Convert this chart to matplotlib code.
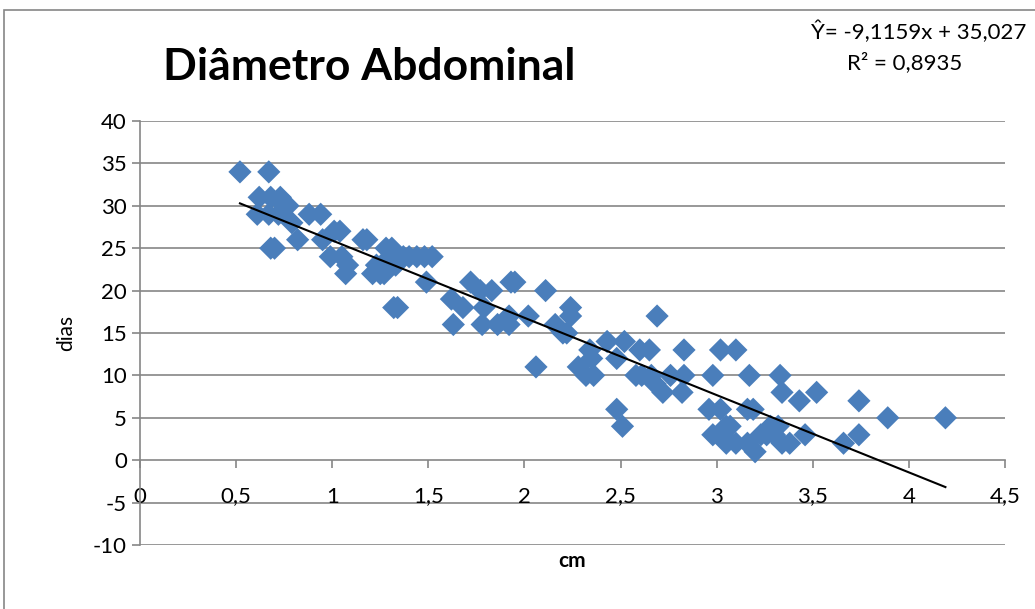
import numpy as np
import matplotlib.pyplot as plt
from matplotlib.patches import Rectangle

plt.rcParams['font.family'] = ['Lato', 'DejaVu Sans']
plt.rcParams['axes.unicode_minus'] = False

# diametro abdominal (cm) x dias
cm = [0.52, 0.67, 0.62, 0.68, 0.73, 0.75, 0.77, 0.61, 0.67, 0.72,
      0.79, 0.82, 0.68, 0.70, 0.88, 0.94, 0.95, 1.01, 1.04, 0.99,
      1.05, 1.08, 1.07, 1.16, 1.18, 1.21, 1.23, 1.25, 1.27, 1.28,
      1.31, 1.30, 1.33, 1.29, 1.32, 1.34, 1.37, 1.40, 1.44, 1.48,
      1.52, 1.49,
      1.62, 1.68, 1.63, 1.72, 1.77, 1.83, 1.79, 1.78, 1.86, 1.92,
      1.92, 1.93, 1.95, 2.02, 2.11, 2.06, 2.16, 2.20, 2.22, 2.24,
      2.24, 2.34, 2.35, 2.28, 2.32, 2.36, 2.43, 2.52, 2.60, 2.65,
      2.69, 2.83,
      2.48, 2.58, 2.61, 2.66, 2.68, 2.76, 2.83, 2.72, 2.82, 2.98,
      2.48, 2.51, 2.96, 3.02, 3.16, 3.19, 2.98, 3.03, 3.05, 3.07,
      3.10, 3.05, 3.16, 3.20, 3.23, 3.26, 3.28, 3.30, 3.32, 3.34,
      3.38, 3.17, 3.33, 3.34, 3.43, 3.52, 3.74, 3.89, 4.19, 3.74,
      3.46, 3.66, 3.02, 3.10]
dias = [34, 34, 31, 31, 31, 30, 30, 29, 29, 29,
        28, 26, 25, 25, 29, 29, 26, 27, 27, 24,
        24, 23, 22, 26, 26, 22, 23, 22, 22, 25,
        25, 24, 23, 23, 18, 18, 24, 24, 24, 24,
        24, 21,
        19, 18, 16, 21, 20, 20, 18, 16, 16, 16,
        17, 21, 21, 17, 20, 11, 16, 15, 15, 18,
        17, 13, 12, 11, 10, 10, 14, 14, 13, 13,
        17, 13,
        12, 10, 10, 10, 9, 10, 10, 8, 8, 10,
        6, 4, 6, 6, 6, 6, 3, 3, 4, 4,
        2, 2, 2, 1, 3, 3, 4, 3, 4, 2,
        2, 10, 10, 8, 7, 8, 7, 5, 5, 3,
        3, 2, 13, 13]

# linha de tendencia (Excel)
a, b = -9.1159, 35.027
eq_text = "Ŷ= -9,1159x + 35,027"
r2_text = "R² = 0,8935"

xticks = np.arange(0, 4.51, 0.5)
xlabels = ["0", "0,5", "1", "1,5", "2", "2,5", "3", "3,5", "4", "4,5"]
yticks = np.arange(-10, 41, 5)

fig = plt.figure(figsize=(10.35, 6.09), dpi=100)
ax = fig.add_axes([140/1035, 64/609, 865/1035, 424/609])

grid_c = '#868686'
ax.set_xlim(0, 4.5)
ax.set_ylim(-10, 40)
ax.set_yticks(yticks)
ax.set_xticks(xticks)
ax.set_xticklabels(xlabels)
for yv in yticks:
    if yv != 0:
        ax.axhline(yv, color=grid_c, lw=1.2, zorder=0)

for s in ['top', 'right']:
    ax.spines[s].set_visible(False)
ax.spines['bottom'].set_position(('data', 0))
ax.spines['bottom'].set_color(grid_c)
ax.spines['bottom'].set_linewidth(1.2)
ax.spines['left'].set_color(grid_c)
ax.spines['left'].set_linewidth(1.2)
ax.tick_params(axis='x', direction='out', length=6, width=1.2, color=grid_c,
               pad=13, labelsize=16)
ax.tick_params(axis='y', direction='out', length=6, width=1.2, color=grid_c,
               labelsize=16)

ax.scatter(cm, dias, marker='D', s=140, color='#4A7EBB', edgecolors='none', zorder=3)

xl = np.array([min(cm), max(cm)])
ax.plot(xl, a * xl + b, color='black', lw=1.5, zorder=4)

ax.set_ylabel("dias", fontsize=15, labelpad=12)
ax.set_xlabel("cm", fontsize=15, fontweight='bold', labelpad=32)

fig.text(163/1035, 1 - 67/609, "Diâmetro Abdominal", fontsize=32, fontweight='bold',
         ha='left', va='center')
fig.text(919/1035, 1 - 32/609, eq_text, fontsize=16, ha='center', va='center')
fig.text(905/1035, 1 - 63/609, r2_text, fontsize=16, ha='center', va='center')

fig.patches.append(Rectangle((4/1035, -0.01), 1.1, 1 - 10/609 + 0.01,
                             transform=fig.transFigure, fill=False,
                             edgecolor=grid_c, lw=1.2))

fig.savefig("out.png", dpi=100)
